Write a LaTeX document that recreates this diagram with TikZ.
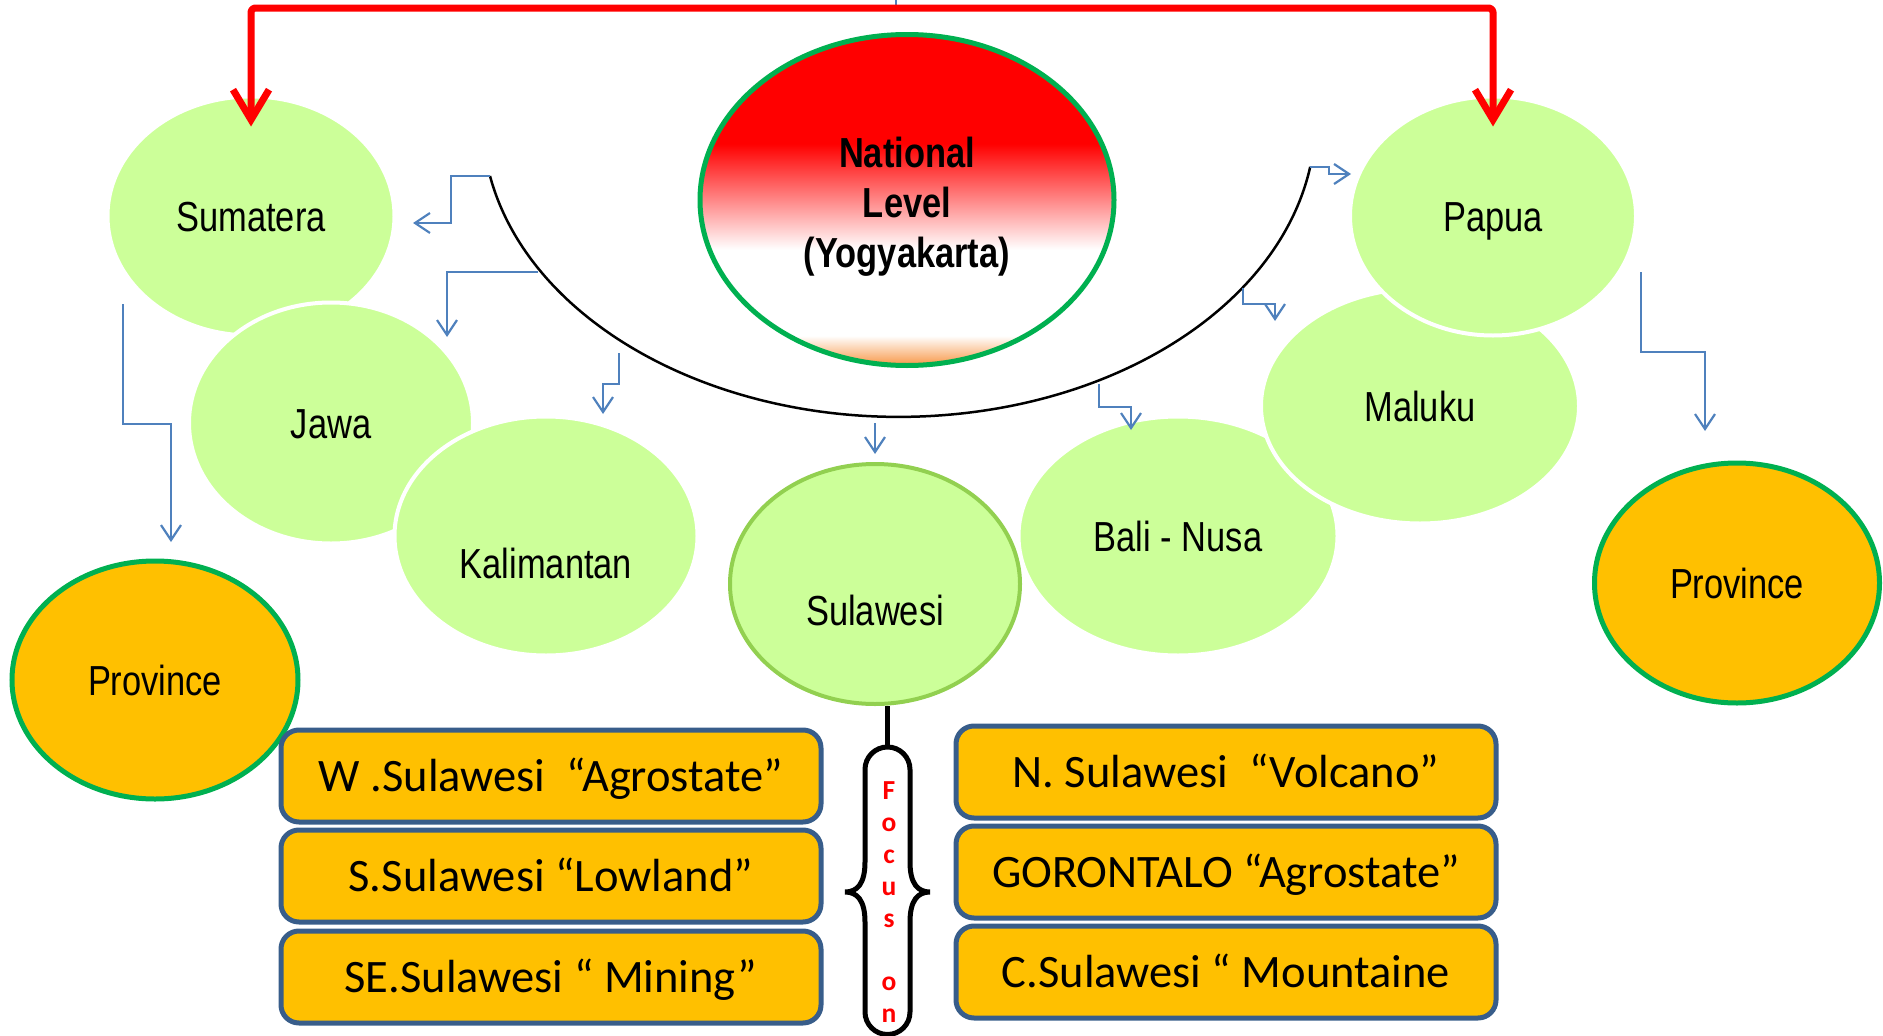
\documentclass[tikz,border=0pt]{standalone}
\usepackage{fontspec}
\setmainfont{Carlito}
\newfontfamily\narrowfont[FakeStretch=0.82]{Liberation Sans}
\usepackage{xcolor}
\usetikzlibrary{arrows.meta,shapes.geometric}

\definecolor{islegreen}{RGB}{204,255,153}
\definecolor{sulline}{RGB}{146,208,80}
\definecolor{provgold}{RGB}{255,192,0}
\definecolor{provline}{RGB}{0,176,80}
\definecolor{linkblue}{RGB}{79,129,189}
\definecolor{boxline}{RGB}{56,93,138}
\definecolor{flagorange}{RGB}{247,150,70}
\pgfdeclareverticalshading{natflag}{100bp}{color(0bp)=(flagorange); color(25bp)=(flagorange); color(29.5bp)=(white); color(42.5bp)=(white); color(58.5bp)=(red); color(100bp)=(red)}

\tikzset{
  isletext/.style={font=\narrowfont\fontsize{42}{50}\selectfont,text height=30pt,text depth=0pt,inner sep=0pt},
  isle/.style={ellipse,fill=islegreen,draw=white,line width=4pt,inner sep=0pt,isletext},
  prov/.style={ellipse,fill=provgold,draw=provline,line width=5pt,inner sep=0pt,isletext},
  region/.style={rectangle,rounded corners=18pt,draw=boxline,line width=5pt,fill=provgold,
    minimum width=540pt,minimum height=92pt,inner sep=0pt,
    font=\fontsize{46.5}{55}\selectfont,text height=30pt,text depth=0pt},
  bluelink/.style={draw=linkblue,line width=2.2pt,-{Straight Barb[length=15pt,width=20pt]}},
  natlink/.style={draw=red,line width=7pt,line join=round,rounded corners=4pt,
    {Straight Barb[length=30pt,width=36pt]}-{Straight Barb[length=30pt,width=36pt]}}
}

\begin{document}
\begin{tikzpicture}[x=1pt,y=-1pt]
\useasboundingbox (0,0) rectangle (1883,1036);

\node[isle,minimum width=287pt,minimum height=239pt] (sum) at (251,216) {Sumatera};
\node[isle,minimum width=284pt,minimum height=241pt] (jaw) at (331,423) {Jawa};
\node[isle,minimum width=303pt,minimum height=239pt,label={[isletext,yshift=-27pt]center:Kalimantan}] (kal) at (546,536) {};
\node[isle,draw=sulline,minimum width=290pt,minimum height=240pt,label={[isletext,yshift=-26pt]center:Sulawesi}] (sul) at (875,584) {};
\node[isle,minimum width=319pt,minimum height=239pt] (bal) at (1178,536) {Bali - Nusa};
\node[isle,minimum width=318pt,minimum height=235pt] (mal) at (1420,406) {Maluku};
\node[isle,minimum width=286pt,minimum height=239pt] (pap) at (1493,216) {Papua};

\node[prov,minimum width=286pt,minimum height=238pt] (prl) at (155,680) {Province};
\node[prov,minimum width=285pt,minimum height=240pt] (prr) at (1737,583) {Province};

\node[ellipse,shading=natflag,draw=provline,line width=5pt,minimum width=414pt,minimum height=331pt,inner sep=0pt,
  label={[align=center,inner sep=0pt,yshift=-7pt,font=\narrowfont\bfseries\fontsize{42}{50}\selectfont]center:National\\Level\\(Yogyakarta)}] (nat) at (907,200) {};

\node[region] (wsul) at (551,776) {W .Sulawesi~~“Agrostate”};
\node[region] (ssul) at (551,876) {S.Sulawesi “Lowland”};
\node[region] (sesul) at (551,977) {SE.Sulawesi “ Mining”};
\node[region] (nsul) at (1226,772) {N. Sulawesi~~“Volcano”};
\node[region] (gor) at (1226,872) {GORONTALO “Agrostate”};
\node[region] (csul) at (1226,972) {C.Sulawesi “ Mountaine};

\coordinate (arcl) at (490,176);
\draw[line width=2.5pt] (arcl) arc[start angle=190.9,end angle=350.9,x radius=416.5pt,y radius=297pt] coordinate (arcr);

\coordinate (sumin) at (413,223);
\coordinate (jawout) at (538,272);
\coordinate (jawin) at (447,337);
\coordinate (kalout) at (619,353);
\coordinate (kalin) at (603,414);
\coordinate (sulout) at (875,423);
\coordinate (sulin) at (875,454);
\coordinate (balout) at (1099,384);
\coordinate (balin) at (1131,430);
\coordinate (malout) at (1243,288);
\coordinate (malin) at (1275,321);
\coordinate (papin) at (1351,174);
\coordinate (sumdown) at (123,304);
\coordinate (prlin) at (171,542);
\coordinate (papdown) at (1641,272);
\coordinate (prrin) at (1705,431);

\draw[bluelink] (arcl) -- ++(-39,0) |- (sumin);
\draw[bluelink] (jawout) -| (jawin);
\draw[bluelink] (kalout) -- ++(0,31) -| (kalin);
\draw[bluelink] (sulout) -- (sulin);
\draw[bluelink] (balout) -- ++(0,23) -| (balin);
\draw[bluelink] (malout) -- ++(0,16) -| (malin);
\draw[bluelink] (arcr) -- ++(19,0) |- (papin);
\draw[bluelink] (sumdown) -- ++(0,120) -| (prlin);
\draw[bluelink] (papdown) -- ++(0,80) -| (prrin);

\coordinate (topedge) at (896,0);
\coordinate (natin) at (896,8);
\draw[linkblue,line width=2.2pt] (topedge) -- (natin);
\draw[natlink] ([yshift=-32pt]sum.north) |- (natin) -| ([yshift=-32pt]pap.north);

\coordinate (brtop) at (887.5,747);
\draw[line width=5pt] (sul.south -| brtop) -- (brtop);
\draw[line width=5pt] (865,862) -- (865,769.5) arc[start angle=180,end angle=0,radius=22.5pt] -- (910,862)
  .. controls (910,884) and (918,892) .. (930,892) .. controls (918,892) and (910,900) .. (910,922) -- (910,1012)
  arc[start angle=0,end angle=-180,radius=22.5pt] -- (865,922)
  .. controls (865,900) and (857,892) .. (845,892) .. controls (857,892) and (865,884) .. (865,862) -- cycle;
\node[font=\bfseries\fontsize{27.5}{32}\selectfont,text=red,align=center,inner sep=0pt,anchor=north] (focus) at (889,781) {F\\o\\c\\u\\s\\[31pt]o\\n};
\end{tikzpicture}
\end{document}
